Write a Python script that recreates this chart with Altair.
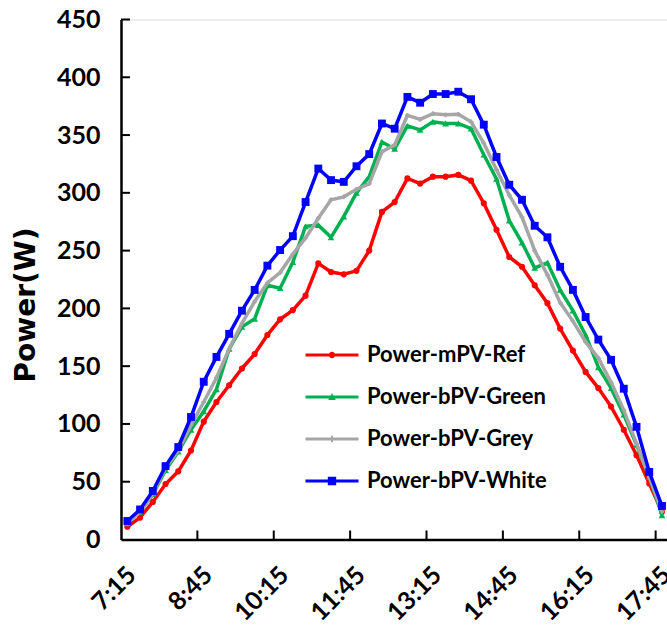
import altair as alt
import pandas as pd

# ---------------- data ----------------
times = ["7:15", "7:30", "7:45", "8:00", "8:15", "8:30", "8:45", "9:00", "9:15", "9:30",
         "9:45", "10:00", "10:15", "10:30", "10:45", "11:00", "11:15", "11:30", "11:45", "12:00",
         "12:15", "12:30", "12:45", "13:00", "13:15", "13:30", "13:45", "14:00", "14:15", "14:30",
         "14:45", "15:00", "15:15", "15:30", "15:45", "16:00", "16:15", "16:30", "16:45", "17:00",
         "17:15", "17:30", "17:45"]

power_ref = [11, 19, 32.5, 48, 59, 77, 102, 119, 133.5, 148,
             160.5, 177, 190.5, 198.5, 211, 239, 231.5, 229.5, 232.5, 250,
             283.5, 292, 312.5, 308, 314, 314, 315.5, 310.5, 291, 268,
             244.5, 236, 220, 204.5, 182.5, 163.5, 145, 131, 115, 95,
             73, 48.5, 24]
power_green = [14, 24, 39, 60, 76, 95, 111, 130, 165, 184,
               191, 220, 217.5, 240, 271, 272, 261.5, 279.5, 300, 314,
               344, 338, 358, 354.5, 361.5, 360, 360, 355.5, 333, 312,
               276, 257, 235, 239.5, 216, 198, 177, 149, 131, 108,
               82, 54, 21]
power_grey = [14, 24, 40, 62, 77, 99, 119, 140, 165, 187,
              206, 222, 231, 247, 261, 278, 294, 296.5, 303, 308,
              335.5, 341.5, 367, 363.5, 368.5, 367.5, 368, 361.5, 343, 320,
              298, 279, 250, 229, 205, 189, 171, 157, 136, 112,
              83, 54, 24]
power_white = [16, 26, 42, 63.5, 80, 106, 136.5, 158, 178, 198,
               216, 237, 250.5, 262.5, 292, 321, 311, 309.5, 323, 333.5,
               360, 355.5, 383, 378, 385.5, 385.5, 387.5, 381, 359, 331,
               307, 294, 271.5, 261.5, 236, 216, 192.5, 173, 155.5, 130.5,
               97.5, 58.5, 29]

series_names = ["Power-mPV-Ref", "Power-bPV-Green", "Power-bPV-Grey", "Power-bPV-White"]
series_values = [power_ref, power_green, power_grey, power_white]

x_label_times = ["7:15", "8:45", "10:15", "11:45", "13:15", "14:45", "16:15", "17:45"]
x_tickmark_minutes = [517.5, 607.5, 697.5, 787.5, 877.5, 967.5, 1057.5]
y_tick_values = [0, 50, 100, 150, 200, 250, 300, 350, 400, 450]
y_tickmark_values = [50, 100, 150, 200, 250, 300, 350, 400, 450]


def to_min(t):
    h, m = t.split(":")
    return int(h) * 60 + int(m)


rows = []
for name, vals in zip(series_names, series_values):
    for t, v in zip(times, vals):
        rows.append({"series": name, "t": to_min(t), "power": v})
df = pd.DataFrame(rows)

# ---------------- styles ----------------
colors = ["#FF0000", "#00B050", "#A6A6A6", "#0000FF"]
marker_shape = ["circle", "triangle-up", "cross", "square"]
marker_size = [38, 45, 22, 62]
LINE = "M-2.65,-0.16H2.65V0.16H-2.65Z"
legend_paths = [
    LINE + "M-0.32,0A0.32,0.32 0 1,1 0.32,0A0.32,0.32 0 1,1 -0.32,0Z",
    LINE + "M-0.38,0.3L0,-0.4L0.38,0.3Z",
    LINE + "M-0.1,-0.32H0.1V0.32H-0.1Z",
    LINE + "M-0.42,-0.42H0.42V0.42H-0.42Z",
]

FONT = "Lato"
W, H = 546, 520
xscale = alt.Scale(domain=[427.5, 1070.9], nice=False, zero=False)
yscale = alt.Scale(domain=[0, 450], nice=False, zero=True)

x_axis = alt.Axis(
    values=[to_min(t) for t in x_label_times],
    labelExpr="floor(datum.value/60) + ':' + (datum.value % 60 < 10 ? '0' : '') + (datum.value % 60)",
    labelAngle=-45, labelAlign="right", labelBaseline="middle",
    labelFont=FONT, labelFontSize=25, labelFontWeight="bold", labelColor="black",
    labelPadding=31, labelOffset=4, labelOverlap=False, labelFlush=False,
    ticks=False, tickSize=0, grid=False, domainColor="black", domainWidth=2.5,
    title=None,
)
y_axis = alt.Axis(
    values=y_tick_values,
    labelFont=FONT, labelFontSize=25, labelFontWeight="bold", labelColor="black",
    labelPadding=21, labelOverlap=False, labelFlush=False,
    ticks=False, tickSize=0, grid=False, domainColor="black", domainWidth=2.5,
    title="Power(W)", titleFont="DejaVu Sans", titleFontSize=28, titleFontWeight="bold",
    titleColor="black", titleX=-95, titleY=285, titleBaseline="middle",
)

X = alt.X("t:Q", scale=xscale, axis=x_axis)
Y = alt.Y("power:Q", scale=yscale, axis=y_axis)

layers = []
for name, c, sh, sz in zip(series_names, colors, marker_shape, marker_size):
    base = alt.Chart(df).transform_filter(alt.datum.series == name)
    layers.append(base.mark_line(color=c, strokeWidth=3.5).encode(x=X, y=Y))
    layers.append(base.mark_point(filled=True, opacity=1, color=c, shape=sh, size=sz, strokeWidth=0).encode(x=X, y=Y))

# inward tick marks
ytk = alt.Chart(pd.DataFrame({"power": y_tickmark_values})).mark_rule(color="black", strokeWidth=2).encode(
    y=Y, x=alt.value(0), x2=alt.value(9))
xtk = alt.Chart(pd.DataFrame({"t": x_tickmark_minutes})).mark_rule(color="black", strokeWidth=2).encode(
    x=X, y=alt.value(H), y2=alt.value(H - 9))
layers += [ytk, xtk]

# legend provider (draws no marks itself)
leg = alt.Chart(df).transform_filter("false").mark_point(filled=True, opacity=1, strokeWidth=0).encode(
    x=X, y=Y,
    color=alt.Color("series:N", scale=alt.Scale(domain=series_names, range=colors),
                    legend=alt.Legend(title=None, orient="none", legendX=200, legendY=324.5,
                                      symbolSize=400, symbolStrokeWidth=0, symbolOpacity=1,
                                      labelFont=FONT, labelFontSize=22, labelFontWeight="bold",
                                      labelColor="black", labelOffset=24, rowPadding=20, padding=0,
                                      labelLimit=400)),
    shape=alt.Shape("series:N", scale=alt.Scale(domain=series_names, range=legend_paths)),
)
layers.append(leg)

chart = alt.layer(*layers).properties(
    width=W, height=H,
    autosize=alt.AutoSizeParams(type="none"),
    padding={"left": 121, "top": 19.5, "right": 0, "bottom": 88.5},
).configure_view(stroke=None).configure(background="white")

chart.save("out.html", embed_options={"renderer": "svg", "actions": False})
